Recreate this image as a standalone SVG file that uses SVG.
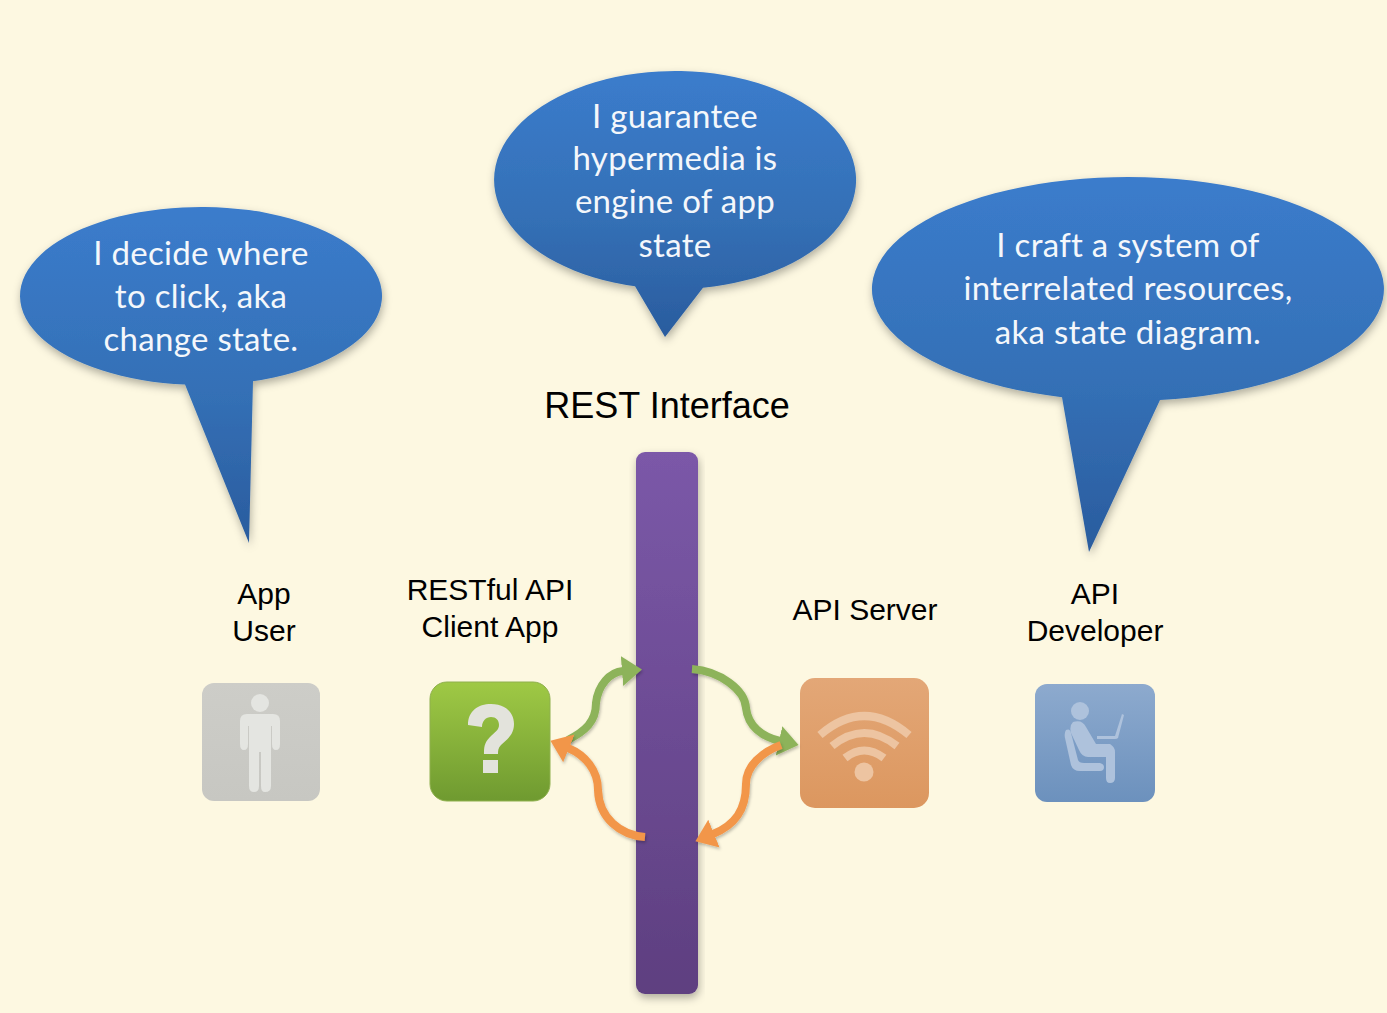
<svg xmlns="http://www.w3.org/2000/svg" width="1387" height="1013" viewBox="0 0 1387 1013">
<style>
.bubble{fill:url(#bubbleGrad);filter:url(#shadow)}
.bt{font-family:"Lato","Open Sans",sans-serif;font-size:33px;letter-spacing:0.3px;fill:#f4f7fb;text-anchor:middle}
.lb{font-family:"Liberation Sans",Arial,sans-serif;font-size:30px;fill:#000;text-anchor:middle}
.conn{fill:none;stroke-width:8;stroke-linecap:butt;filter:url(#shadowS)}
</style>
<defs>
<linearGradient id="bubbleGrad" x1="0" y1="0" x2="0" y2="1"><stop offset="0" stop-color="#3b7ccc"/><stop offset="0.55" stop-color="#3470b6"/><stop offset="1" stop-color="#2a5c9e"/></linearGradient>
<linearGradient id="barGrad" x1="0" y1="0" x2="0" y2="1"><stop offset="0" stop-color="#7b58a8"/><stop offset="1" stop-color="#5e3f80"/></linearGradient>
<linearGradient id="greenGrad" x1="0" y1="0" x2="0" y2="1"><stop offset="0" stop-color="#9fc945"/><stop offset="1" stop-color="#6f9a30"/></linearGradient>
<linearGradient id="orangeGrad" x1="0" y1="0" x2="0" y2="1"><stop offset="0" stop-color="#e3a777"/><stop offset="1" stop-color="#dc975f"/></linearGradient>
<linearGradient id="blueGrad" x1="0" y1="0" x2="0" y2="1"><stop offset="0" stop-color="#8daace"/><stop offset="1" stop-color="#6c91bd"/></linearGradient>
<linearGradient id="greyGrad" x1="0" y1="0" x2="0" y2="1"><stop offset="0" stop-color="#cdcdc8"/><stop offset="1" stop-color="#c7c7c2"/></linearGradient>
<filter id="shadow" x="-10%" y="-10%" width="120%" height="125%"><feDropShadow dx="1" dy="4" stdDeviation="4" flood-color="#000" flood-opacity="0.3"/></filter>
<filter id="shadowS" filterUnits="userSpaceOnUse" x="0" y="0" width="1387" height="1013"><feDropShadow dx="1" dy="2" stdDeviation="1.5" flood-color="#000" flood-opacity="0.25"/></filter>
<filter id="soft"><feGaussianBlur stdDeviation="0.6"/></filter>
<marker id="headG" markerUnits="userSpaceOnUse" markerWidth="24" markerHeight="34" refX="1" refY="15" orient="auto"><path d="M0,0L20,15L0,30z" fill="#8db35a"/></marker>
<marker id="headO" markerUnits="userSpaceOnUse" markerWidth="24" markerHeight="34" refX="1" refY="15" orient="auto"><path d="M0,0L20,15L0,30z" fill="#f2964a"/></marker>
</defs>
<rect width="1387" height="1013" fill="#fdf8e1"/>

<g id="bubble-left">
<path class="bubble" d="M185,384.6A181,89 0 1 1 253,381.2L249,543Z"/>
<text class="bt" x="201" y="265">I decide where</text>
<text class="bt" x="201" y="308">to click, aka</text>
<text class="bt" x="201" y="351">change state.</text>
</g>
<g id="bubble-middle">
<path class="bubble" d="M635,286.3A181,109 0 1 1 703,287.7L665,337Z"/>
<text class="bt" x="675" y="128">I guarantee</text>
<text class="bt" x="675" y="170">hypermedia is</text>
<text class="bt" x="675" y="213">engine of app</text>
<text class="bt" x="675" y="257">state</text>
</g>
<g id="bubble-right">
<path class="bubble" d="M1062,397.2A256,112 0 1 1 1160,400.1L1089,552Z"/>
<text class="bt" x="1128" y="257">I craft a system of</text>
<text class="bt" x="1128" y="300">interrelated resources,</text>
<text class="bt" x="1128" y="344">aka state diagram.</text>
</g>

<g id="rest-interface">
<text x="667" y="418" font-family="'Liberation Sans',Arial,sans-serif" font-size="36" text-anchor="middle" fill="#000">REST Interface</text>
<rect x="636" y="452" width="62" height="542" rx="9" fill="url(#barGrad)" filter="url(#shadow)"/>
</g>

<g id="app-user">
<text class="lb" x="264" y="604">App</text>
<text class="lb" x="264" y="641">User</text>
<rect x="202" y="683" width="118" height="118" rx="12" fill="url(#greyGrad)"/>
<g fill="#e4e5e1" filter="url(#soft)">
<circle cx="260" cy="703" r="9"/>
<path d="M247,714H273Q280,714 280,721V744Q280,750 276,750Q272,750 272,744V726H271V786Q271,792 265,792Q261,792 261,786V752H259V786Q259,792 254,792Q249,792 249,786V726H248V744Q248,750 244,750Q240,750 240,744V721Q240,714 247,714Z"/>
</g>
</g>

<g id="client-app">
<text class="lb" x="490" y="600">RESTful API</text>
<text class="lb" x="490" y="637">Client App</text>
<rect x="430" y="682" width="120" height="119" rx="17" fill="url(#greenGrad)" stroke="#8fb04e" stroke-width="1"/>
<path d="M468,725C468,711 478,704 491,704C505,704 514,712 514,724C514,735 507,739 501,745C498,748 498,751 498,754H484C484,748 484,743 490,737C495,732 499,730 499,725C499,720 496,717 491,717C486,717 482,721 482,727Z M483,760H498V773H483Z" fill="#e3e3dc" filter="url(#soft)"/>
</g>

<g id="api-server">
<text class="lb" x="865" y="620">API Server</text>
<rect x="800" y="678" width="129" height="130" rx="15" fill="url(#orangeGrad)"/>
<g fill="none" stroke="#edc4a1" stroke-width="8" stroke-linecap="butt" filter="url(#soft)">
<path d="M820,735Q864,697 909,735"/>
<path d="M832,746Q864,720 897,746"/>
<path d="M845,758Q864,743 884,758"/>
</g>
<circle cx="864" cy="772" r="9.5" fill="#edc4a1" filter="url(#soft)"/>
</g>

<g id="api-developer">
<text class="lb" x="1095" y="604">API</text>
<text class="lb" x="1095" y="641">Developer</text>
<rect x="1035" y="684" width="120" height="118" rx="12" fill="url(#blueGrad)"/>
<g fill="#aec2dc" filter="url(#soft)">
<circle cx="1080" cy="711" r="9"/>
<path d="M1073,722Q1082,719 1086,727L1096,744H1110Q1115,747 1115,752V778Q1115,783 1110,783Q1106,783 1106,778V757H1088Q1082,757 1079,750L1071,733Q1069,726 1073,722Z"/>
<path d="M1066,730Q1070,728 1071,733L1078,760Q1079,763 1084,763H1100Q1104,764 1104,767Q1104,771 1100,771H1080Q1073,771 1071,765L1065,738Q1064,733 1066,730Z"/>
<path d="M1097,736H1115L1122,714L1124,715L1118,738Q1117,739 1115,739H1097Z"/>
</g>
</g>

<g id="connectors">
<path class="conn" stroke="#8db35a" marker-end="url(#headG)" d="M568,740C585,731 596,722 596,703C598,685 610,672 623,671"/>
<path class="conn" stroke="#8db35a" marker-end="url(#headG)" d="M692,669C720,671 745,690 746,708C748,726 762,737 780,741"/>
<path class="conn" stroke="#f2964a" marker-end="url(#headO)" d="M781,745C762,752 746,766 746,784C746,810 735,825 713,834"/>
<path class="conn" stroke="#f2964a" marker-end="url(#headO)" d="M645,837C620,835 599,818 598,790C598,770 585,755 568,748"/>
</g>
</svg>
